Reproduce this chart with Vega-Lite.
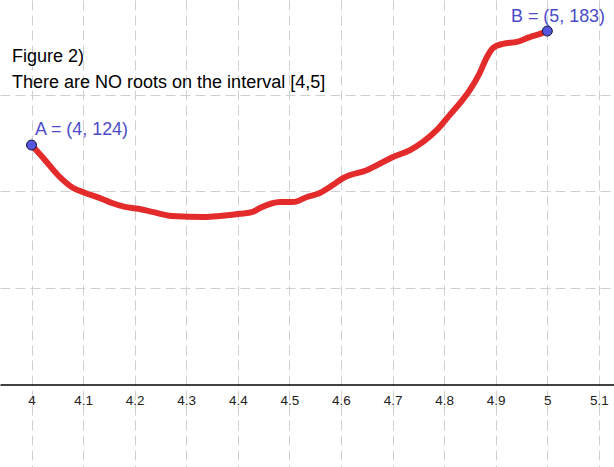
{
  "$schema": "https://vega.github.io/schema/vega-lite/v6.json",
  "width": 614,
  "height": 467,
  "autosize": {"type": "fit", "contains": "padding"},
  "padding": 0,
  "background": "white",
  "config": {
    "view": {"stroke": null},
    "font": "Liberation Sans"
  },
  "datasets": {
    "curve": [
      {"x": 4.0, "y": 124.0},
      {"x": 4.026, "y": 116.3},
      {"x": 4.051, "y": 108.5},
      {"x": 4.080, "y": 101.9},
      {"x": 4.104, "y": 99.2},
      {"x": 4.137, "y": 96.1},
      {"x": 4.156, "y": 94.0},
      {"x": 4.181, "y": 92.0},
      {"x": 4.207, "y": 91.0},
      {"x": 4.234, "y": 89.4},
      {"x": 4.272, "y": 87.3},
      {"x": 4.336, "y": 86.8},
      {"x": 4.365, "y": 87.3},
      {"x": 4.404, "y": 88.4},
      {"x": 4.429, "y": 89.4},
      {"x": 4.443, "y": 91.4},
      {"x": 4.482, "y": 94.5},
      {"x": 4.507, "y": 94.5},
      {"x": 4.534, "y": 97.1},
      {"x": 4.559, "y": 99.2},
      {"x": 4.585, "y": 103.4},
      {"x": 4.604, "y": 106.9},
      {"x": 4.650, "y": 111.0},
      {"x": 4.701, "y": 117.8},
      {"x": 4.734, "y": 121.4},
      {"x": 4.759, "y": 125.6},
      {"x": 4.786, "y": 131.8},
      {"x": 4.811, "y": 139.6},
      {"x": 4.831, "y": 145.8},
      {"x": 4.850, "y": 152.5},
      {"x": 4.869, "y": 161.3},
      {"x": 4.883, "y": 169.6},
      {"x": 4.895, "y": 174.3},
      {"x": 4.914, "y": 176.4},
      {"x": 4.941, "y": 177.4},
      {"x": 4.966, "y": 179.9},
      {"x": 4.986, "y": 181.5},
      {"x": 5.0, "y": 183.0}
    ],
    "points": [
      {"name": "A", "x": 4, "y": 124, "label": "A = (4, 124)"},
      {"name": "B", "x": 5, "y": 183, "label": "B = (5, 183)"}
    ],
    "notes": [
      {"x": 3.9622, "y": 167.1, "text": "Figure 2)"},
      {"x": 3.9622, "y": 153.7, "text": "There are NO roots on the interval [4,5]"}
    ]
  },
  "layer": [
    {
      "data": {"name": "curve"},
      "mark": {"type": "line", "color": "#e32b2b", "strokeWidth": 6, "strokeCap": "round", "strokeJoin": "round", "interpolate": "monotone"},
      "encoding": {
        "x": {
          "field": "x", "type": "quantitative",
          "scale": {"domain": [3.9389, 5.1293], "nice": false, "zero": false},
          "axis": {
            "title": null,
            "orient": "bottom",
            "offset": -82.4,
            "values": [4, 4.1, 4.2, 4.3, 4.4, 4.5, 4.6, 4.7, 4.8, 4.9, 5, 5.1],
            "format": "~g",
            "domain": true,
            "domainColor": "#000000",
            "domainWidth": 1.5,
            "ticks": false,
            "tickSize": 0,
            "labelPadding": 9,
            "labelFont": "Liberation Sans",
            "labelFontSize": 13.5,
            "labelColor": "#222222",
            "labelFlush": false,
            "labelOverlap": false,
            "grid": true,
            "gridColor": "#d0d0d0",
            "gridDash": [10, 5],
            "gridWidth": 1,
            "zindex": 0
          }
        },
        "y": {
          "field": "y", "type": "quantitative",
          "scale": {"domain": [-42.65, 199.07], "nice": false, "zero": false},
          "axis": {
            "title": null,
            "values": [50, 100, 150],
            "labels": false,
            "ticks": false,
            "tickSize": 0,
            "domain": false,
            "grid": true,
            "gridColor": "#d0d0d0",
            "gridDash": [10, 5],
            "gridWidth": 1,
            "zindex": 0
          }
        }
      }
    },
    {
      "data": {"name": "points"},
      "mark": {"type": "point", "filled": true, "size": 100, "color": "#5555dd", "stroke": "#111133", "strokeWidth": 1, "opacity": 1},
      "encoding": {
        "x": {"field": "x", "type": "quantitative"},
        "y": {"field": "y", "type": "quantitative"}
      }
    },
    {
      "data": {"name": "points"},
      "transform": [{"filter": "datum.name === 'A'"}],
      "mark": {"type": "text", "align": "left", "baseline": "alphabetic", "dx": 3.5, "dy": -10, "fontSize": 17.9, "font": "Liberation Sans", "color": "#4b4bc8"},
      "encoding": {
        "x": {"field": "x", "type": "quantitative"},
        "y": {"field": "y", "type": "quantitative"},
        "text": {"field": "label"}
      }
    },
    {
      "data": {"name": "points"},
      "transform": [{"filter": "datum.name === 'B'"}],
      "mark": {"type": "text", "align": "left", "baseline": "alphabetic", "dx": -36.3, "dy": -9.3, "fontSize": 17.9, "font": "Liberation Sans", "color": "#4b4bc8"},
      "encoding": {
        "x": {"field": "x", "type": "quantitative"},
        "y": {"field": "y", "type": "quantitative"},
        "text": {"field": "label"}
      }
    },
    {
      "data": {"name": "notes"},
      "mark": {"type": "text", "align": "left", "baseline": "alphabetic", "fontSize": 18, "font": "Liberation Sans", "color": "#000000"},
      "encoding": {
        "x": {"field": "x", "type": "quantitative"},
        "y": {"field": "y", "type": "quantitative"},
        "text": {"field": "text"}
      }
    }
  ]
}
